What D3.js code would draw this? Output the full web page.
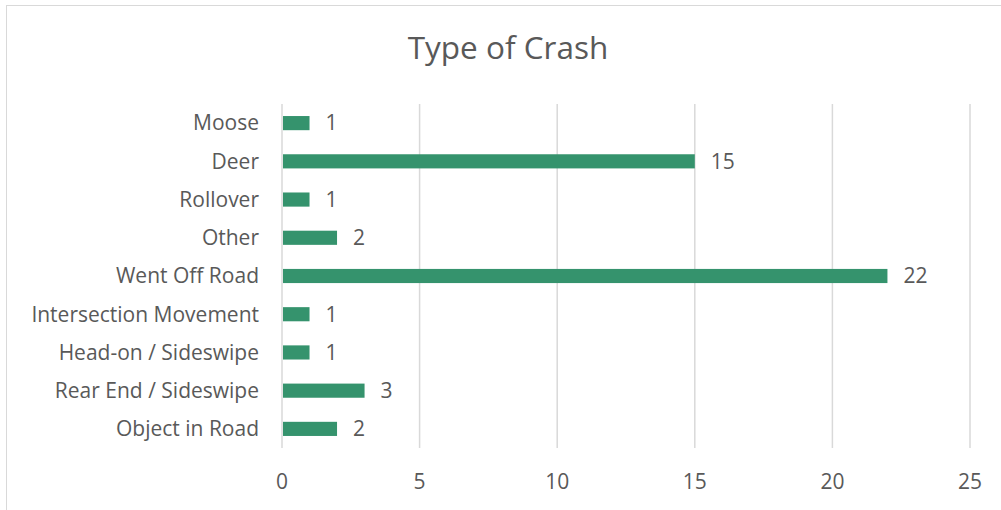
<!DOCTYPE html>
<html>
<head>
<meta charset="utf-8">
<script src="https://cdn.jsdelivr.net/npm/d3@7"></script>
<style>
  body { margin: 0; background: #fff; }
  text { font-family: "Open Sans", sans-serif; fill: #595959; }
</style>
</head>
<body>
<div id="chart"></div>
<script>
// Données du graphique (de haut en bas)
const categories = ["Moose", "Deer", "Rollover", "Other", "Went Off Road",
  "Intersection Movement", "Head-on / Sideswipe", "Rear End / Sideswipe", "Object in Road"];
const valeurs = [1, 15, 1, 2, 22, 1, 1, 3, 2];
const ticks = [0, 5, 10, 15, 20, 25];
const titre = "Type of Crash";

const largeur = 1001, hauteur = 510;
const marge = { gauche: 282, droite: 31, haut: 104, bas: 62 };

const svg = d3.select("#chart")
  .append("svg")
  .attr("width", largeur)
  .attr("height", hauteur);

// Cadre du graphique (coupé à droite et en bas)
svg.append("rect")
  .attr("x", 6.5).attr("y", 5.5)
  .attr("width", 1010).attr("height", 520)
  .attr("fill", "white").attr("stroke", "#d9d9d9");

const x = d3.scaleLinear().domain([0, 25]).range([marge.gauche, largeur - marge.droite]);
const y = d3.scaleBand().domain(categories).range([marge.haut, hauteur - marge.bas]).paddingInner(0.63).paddingOuter(0.315);

// Lignes de grille verticales
svg.append("g").selectAll("line")
  .data(ticks)
  .join("line")
  .attr("x1", d => x(d)).attr("x2", d => x(d))
  .attr("y1", marge.haut).attr("y2", hauteur - marge.bas)
  .attr("stroke", "#d9d9d9").attr("stroke-width", 1.5);

// Barres
svg.append("g").selectAll("rect")
  .data(valeurs)
  .join("rect")
  .attr("x", x(0) + 1)
  .attr("y", (d, i) => y(categories[i]))
  .attr("width", d => x(d) - x(0) - 1)
  .attr("height", y.bandwidth())
  .attr("fill", "#35936d");

// Etiquettes de données
svg.append("g").selectAll("text")
  .data(valeurs)
  .join("text")
  .attr("x", d => x(d) + 16)
  .attr("y", (d, i) => y(categories[i]) + y.bandwidth() / 2)
  .attr("dy", "0.35em")
  .attr("font-size", 21)
  .text(d => d);

// Etiquettes des catégories
svg.append("g").selectAll("text")
  .data(categories)
  .join("text")
  .attr("x", x(0) - 23)
  .attr("y", d => y(d) + y.bandwidth() / 2)
  .attr("dy", "0.35em")
  .attr("text-anchor", "end")
  .attr("font-size", 21)
  .text(d => d);

// Etiquettes de l'axe X
svg.append("g").selectAll("text")
  .data(ticks)
  .join("text")
  .attr("x", d => x(d))
  .attr("y", 482)
  .attr("dy", "0.35em")
  .attr("text-anchor", "middle")
  .attr("font-size", 21)
  .text(d => d);

// Titre
svg.append("text")
  .attr("x", 508).attr("y", 48)
  .attr("dy", "0.35em")
  .attr("text-anchor", "middle")
  .attr("font-size", 31.5)
  .text(titre);
</script>
</body>
</html>
